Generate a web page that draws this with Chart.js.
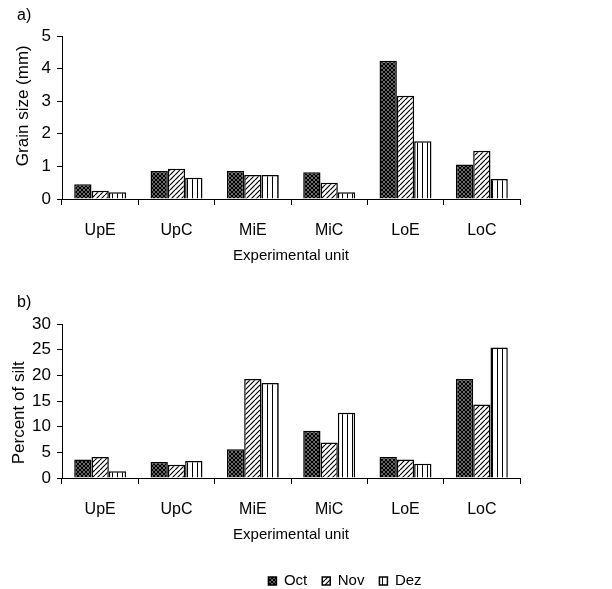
<!DOCTYPE html>
<html>
<head>
<meta charset="utf-8">
<script src="https://cdn.jsdelivr.net/npm/chart.js@4"></script>
<style>
  html, body { margin: 0; padding: 0; background: #fff; overflow: hidden; }
  body { width: 612px; height: 589px; position: relative; }
  .tag { position: absolute; font: 16px "Liberation Sans", Arial, sans-serif; color: #000; }
  #wrapA { position: absolute; left: 0; top: 0; width: 612px; height: 270px; }
  #wrapB { position: absolute; left: 0; top: 270px; width: 690px; height: 330px; }
</style>
</head>
<body>
<div id="wrapA"><canvas id="grainChart"></canvas></div>
<div id="wrapB"><canvas id="siltChart"></canvas></div>
<div class="tag" style="left:17px; top:6px;">a)</div>
<div class="tag" style="left:17px; top:293px;">b)</div>
<script>
// categories and months
const units = ["UpE", "UpC", "MiE", "MiC", "LoE", "LoC"];
const months = ["Oct", "Nov", "Dez"];

// a) grain size (mm)
const grainOct = [0.45, 0.86, 0.86, 0.82, 4.24, 1.06];
const grainNov = [0.25, 0.93, 0.74, 0.50, 3.17, 1.48];
const grainDez = [0.21, 0.65, 0.74, 0.21, 1.77, 0.61];

// b) percent of silt
const siltOct = [3.6, 3.1, 5.6, 9.2, 4.1, 19.3];
const siltNov = [4.1, 2.6, 19.3, 6.9, 3.6, 14.3];
const siltDez = [1.3, 3.3, 18.5, 12.7, 2.8, 25.4];

Chart.defaults.font.family = '"Liberation Sans", Arial, sans-serif';
Chart.defaults.font.size = 15;
Chart.defaults.color = "#000";

// fill patterns like the old excel hatches
function makePattern(kind) {
    const s = kind === "cross" ? 4 : 5;
    const c = document.createElement("canvas");
    c.width = s; c.height = s;
    const g = c.getContext("2d");
    g.fillStyle = kind === "cross" ? "#d8d8d8" : "#fff";
    g.fillRect(0, 0, s, s);
    g.strokeStyle = "#000";
    g.lineWidth = kind === "cross" ? 1.5 : 1.2;
    function diag(dir) {
        for (let k = -1; k <= 1; k++) {
            g.beginPath();
            if (dir > 0) { g.moveTo(k * s, s); g.lineTo(k * s + s, 0); }
            else { g.moveTo(k * s, 0); g.lineTo(k * s + s, s); }
            g.stroke();
        }
    }
    if (kind === "cross") {
        diag(1); diag(-1);
    } else if (kind === "diag") {
        diag(1);
    } else {
        g.lineWidth = 1;
        g.beginPath(); g.moveTo(2.5, 0); g.lineTo(2.5, s); g.stroke();
    }
    return g.createPattern(c, "repeat");
}
const fills = [makePattern("cross"), makePattern("diag"), makePattern("vert")];

function makeDatasets(series) {
    return series.map((vals, i) => ({
        label: months[i],
        data: vals,
        backgroundColor: fills[i],
        borderColor: "#000",
        borderWidth: 1.5,
        borderSkipped: "bottom",
        categoryPercentage: 0.68,
        barPercentage: 1.0
    }));
}

function axisOptions(yMax, yStep, yTitle, yTitlePad, xTitlePad, xHeight) {
    return {
        x: {
            grid: { display: true, offset: true, drawOnChartArea: false, drawTicks: true, tickLength: 6, color: "#000" },
            border: { display: true, color: "#000", width: 1 },
            ticks: { padding: 16, color: "#000", font: { size: 16 } },
            title: { display: true, text: "Experimental unit", padding: { top: 0, bottom: xTitlePad }, color: "#000", font: { size: 15 } },
            afterFit: function (scale) { scale.height = xHeight; }
        },
        y: {
            min: 0,
            max: yMax,
            grid: { display: true, drawOnChartArea: false, drawTicks: true, tickLength: 5, color: "#000" },
            border: { display: true, color: "#000", width: 1 },
            ticks: { stepSize: yStep, padding: 6, color: "#000", font: { size: 17 } },
            title: { display: true, text: yTitle, padding: { top: yTitlePad, bottom: 0 }, color: "#000", font: { size: 17 } },
            afterFit: function (scale) { scale.width = 62; }
        }
    };
}

// a) grain size (leading spaces nudge the title up a bit, like the original)
new Chart(document.getElementById("grainChart"), {
    type: "bar",
    data: { labels: units, datasets: makeDatasets([grainOct, grainNov, grainDez]) },
    options: {
        responsive: true,
        maintainAspectRatio: false,
        animation: false,
        layout: { padding: { left: 0, right: 92, top: 36, bottom: 0 } },
        plugins: { legend: { display: false }, tooltip: { enabled: false } },
        scales: axisOptions(5, 1, "     Grain size (mm)", 12.8, 5, 71)
    }
});

// b) percent of silt, legend sits under this one
const siltScales = axisOptions(30, 5, "Percent of silt     ", 9, 14.5, 80.5);
siltScales.yR = {
    position: "right",
    display: true,
    grid: { display: false },
    border: { display: false },
    ticks: { display: false },
    afterFit: function (scale) { scale.width = 170; }
};
new Chart(document.getElementById("siltChart"), {
    type: "bar",
    data: { labels: units, datasets: makeDatasets([siltOct, siltNov, siltDez]) },
    options: {
        responsive: true,
        maintainAspectRatio: false,
        animation: false,
        layout: { padding: { left: 0, right: 0, top: 54, bottom: 1.5 } },
        plugins: {
            tooltip: { enabled: false },
            legend: {
                display: true,
                position: "bottom",
                labels: { boxWidth: 8, boxHeight: 8, padding: 15, color: "#000", font: { size: 15 } }
            }
        },
        scales: siltScales
    }
});
</script>
</body>
</html>
